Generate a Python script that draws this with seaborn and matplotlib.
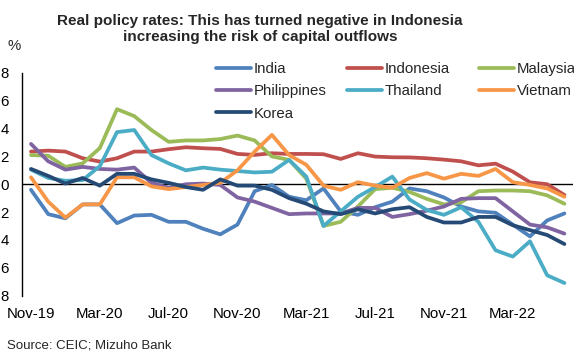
import matplotlib
matplotlib.use("Agg")
import matplotlib.pyplot as plt
from matplotlib.lines import Line2D
import pandas as pd
import seaborn as sns

# Monthly categories, Nov-19 .. Jun-22
months = ["Nov-19", "Dec-19", "Jan-20", "Feb-20", "Mar-20", "Apr-20", "May-20", "Jun-20",
          "Jul-20", "Aug-20", "Sep-20", "Oct-20", "Nov-20", "Dec-20", "Jan-21", "Feb-21",
          "Mar-21", "Apr-21", "May-21", "Jun-21", "Jul-21", "Aug-21", "Sep-21", "Oct-21",
          "Nov-21", "Dec-21", "Jan-22", "Feb-22", "Mar-22", "Apr-22", "May-22", "Jun-22"]
tick_labels = ["Nov-19", "Mar-20", "Jul-20", "Nov-20", "Mar-21", "Jul-21", "Nov-21", "Mar-22"]
y_ticks = [-8, -6, -4, -2, 0, 2, 4, 6, 8]
y_tick_labels = ["8", "6", "4", "2", "0", "2", "4", "6", "8"]

# Real policy rates, %
india = [-0.4, -2.15, -2.45, -1.45, -1.45, -2.8, -2.25, -2.2, -2.7, -2.7, -3.2, -3.6,
         -2.9, -0.5, -0.05, -0.9, -1.15, -0.3, -1.95, -2.2, -1.65, -1.25, -0.3, -0.5,
         -0.95, -1.6, -1.95, -2.05, -2.9, -3.75, -2.6, -2.1]
indonesia = [2.35, 2.42, 2.35, 1.87, 1.63, 1.87, 2.35, 2.35, 2.52, 2.66, 2.59, 2.54,
             2.18, 2.11, 2.23, 2.18, 2.18, 2.16, 1.82, 2.23, 1.99, 1.94, 1.93, 1.87,
             1.77, 1.65, 1.36, 1.48, 0.91, 0.14, 0.0, -0.77]
malaysia = [2.1, 2.05, 1.25, 1.5, 2.6, 5.4, 4.9, 3.9, 3.05, 3.15, 3.15, 3.25,
            3.5, 3.15, 2.0, 1.75, 0.4, -3.0, -2.7, -1.6, -0.35, -0.25, -0.55, -1.05,
            -1.45, -1.3, -0.5, -0.45, -0.45, -0.5, -0.8, -1.4]
philippines = [2.9, 1.65, 1.05, 1.25, 1.1, 1.05, 1.2, 0.1, -0.25, 0.0, 0.05, -0.05,
               -0.95, -1.25, -1.7, -2.15, -2.1, -2.1, -2.1, -1.7, -1.7, -2.35, -2.15, -1.9,
               -1.6, -1.05, -1.0, -1.0, -1.95, -2.9, -3.1, -3.55]
thailand = [1.05, 0.45, 0.25, 0.3, 1.3, 3.75, 3.9, 2.1, 1.5, 1.0, 1.2, 1.05,
            0.95, 0.85, 0.9, 1.75, 0.55, -3.0, -1.95, -0.9, -0.2, 0.55, -1.1, -1.85,
            -2.2, -1.65, -2.7, -4.75, -5.2, -4.1, -6.55, -7.1]
vietnam = [0.5, -1.25, -2.4, -1.45, -1.45, 0.5, 0.5, -0.15, -0.35, -0.2, -0.05, 0.1,
           1.0, 2.35, 3.55, 2.1, 1.4, -0.1, -0.4, 0.15, -0.1, -0.25, 0.45, 0.8,
           0.4, 0.75, 0.6, 1.1, 0.15, -0.05, -0.3, -0.9]
korea = [1.1, 0.6, 0.05, 0.45, -0.1, 0.75, 0.75, 0.35, 0.1, -0.2, -0.4, 0.35,
         -0.1, -0.1, -0.4, -1.0, -1.4, -1.95, -2.15, -1.8, -2.1, -1.8, -1.65, -2.35,
         -2.75, -2.75, -2.35, -2.35, -2.95, -3.3, -3.65, -4.3]

series = {
    "India": india,
    "Indonesia": indonesia,
    "Malaysia": malaysia,
    "Philippines": philippines,
    "Thailand": thailand,
    "Vietnam": vietnam,
    "Korea": korea,
}
palette = {
    "India": "#4F81BD",
    "Indonesia": "#C0504D",
    "Malaysia": "#9BBB59",
    "Philippines": "#8064A2",
    "Thailand": "#4BACC6",
    "Vietnam": "#F79646",
    "Korea": "#254A75",
}
order = list(series.keys())

rows = []
for name, vals in series.items():
    for i, v in enumerate(vals):
        rows.append({"pos": i, "month": months[i], "country": name, "rate": v})
df = pd.DataFrame(rows)

sns.set_theme(style="white")
plt.rcParams["font.family"] = ["Liberation Sans", "DejaVu Sans"]

W, H = 574, 353
fig = plt.figure(figsize=(W / 100, H / 100), dpi=100)
left, right, top, bottom = 22.4, 573.0, 73.0, 295.5
ax = fig.add_axes([left / W, 1 - bottom / H, (right - left) / W, (bottom - top) / H])

sns.lineplot(data=df, x="pos", y="rate", hue="country", hue_order=order,
             palette=palette, linewidth=2.7, legend=False, ax=ax)

ax.axhline(0, color="black", linewidth=1.0, zorder=1)
ax.set_xlim(-0.5, len(months) - 0.5)
ax.set_ylim(-8, 8)
ax.set_yticks(y_ticks)
ax.set_yticklabels(y_tick_labels)
ax.set_xticks([months.index(m) for m in tick_labels])
ax.set_xticklabels(tick_labels)
ax.set_xlabel("")
ax.set_ylabel("")
ax.tick_params(axis="y", length=0, pad=10, labelsize=10.8, colors="black")
ax.tick_params(axis="x", length=0, pad=8, labelsize=10.8, colors="black")
for s in ["top", "right", "bottom"]:
    ax.spines[s].set_visible(False)
ax.spines["left"].set_color("black")
ax.spines["left"].set_linewidth(1.0)
ax.grid(False)

# Legend: three evenly spaced columns, filled row by row
legend_cols = [(217, ["India", "Philippines", "Korea"]),
               (348, ["Indonesia", "Thailand"]),
               (480, ["Malaysia", "Vietnam"])]
for x_px, names in legend_cols:
    handles = [Line2D([0], [0], color=palette[n], linewidth=2.7) for n in names]
    fig.legend(handles, names, loc="upper left", bbox_to_anchor=((x_px - 1) / W, 1 - 62 / H),
               ncol=1, frameon=False, fontsize=10.8, handlelength=2.3, handletextpad=0.2,
               labelspacing=0.55, borderpad=0, borderaxespad=0)

fig.text(260 / W, 1 - 29 / H,
         "Real policy rates: This has turned negative in Indonesia\n"
         "increasing the risk of capital outflows",
         ha="center", va="center", fontsize=11, fontweight="bold", linespacing=1.25)
fig.text(8 / W, 1 - 46 / H, "%", ha="left", va="center", fontsize=10.8)
fig.text(7 / W, 1 - 346 / H, "Source: CEIC; Mizuho Bank", ha="left", va="center", fontsize=9.5)

fig.savefig("out.png", dpi=100)
